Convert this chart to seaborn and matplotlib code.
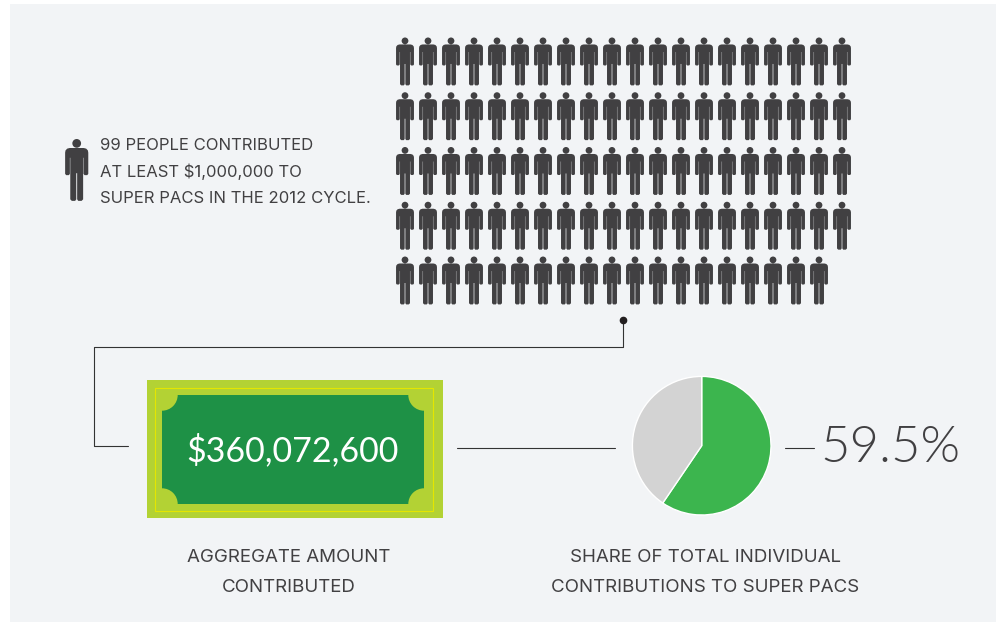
import numpy as np
import pandas as pd
import matplotlib
matplotlib.use('Agg')
import matplotlib.pyplot as plt
from matplotlib import font_manager as fm
from matplotlib.patches import Rectangle, Circle
from matplotlib.path import Path
import seaborn as sns

n_pessoas = 99
n_colunas = 20
fatias = [59.5, 40.5]
cores_fatias = ['#3CB54E', '#D3D3D3']
txt_intro = ['99 PEOPLE CONTRIBUTED', 'AT LEAST $1,000,000 TO', 'SUPER PACS IN THE 2012 CYCLE.']
txt_valor = '$360,072,600'
txt_pct = '59.5%'
txt_agregado = ['AGGREGATE AMOUNT', 'CONTRIBUTED']
txt_share = ['SHARE OF TOTAL INDIVIDUAL', 'CONTRIBUTIONS TO SUPER PACS']

W, H = 997, 622
ESCURO = '#414042'

sns.set_theme(style='white')
plt.rcParams['font.family'] = ['Lato', 'DejaVu Sans']


def fonte_leve():
    # Lato Light direto do arquivo, o peso 'light' cai no Hairline
    for f in fm.fontManager.ttflist:
        nome = f.fname.rsplit('/', 1)[-1]
        if nome.lower() in ('lato-light.ttf', 'lato-light.otf'):
            return fm.FontProperties(fname=f.fname)
    return fm.FontProperties(family='Roboto', weight='light')


def boneco():
    # meia silhueta em pixels, y medido a partir do topo da cabeca
    meio = [(0.35, 26.5), (0.35, 46.8), (1.2, 48), (3.8, 48), (5.0, 46.8), (5.0, 14.5),
            (5.3, 14.5), (5.3, 27), (6.1, 28), (8.2, 28), (9, 27), (9, 10.5),
            (8.7, 8.8), (7.4, 7.4), (5.5, 6.9)]
    contorno = meio + [(-x, y) for x, y in reversed(meio)]
    corpo = Path([(x, 24 - y) for x, y in contorno] + [(0.35, -2.5)], closed=True)
    cabeca = Path.circle((0, 24 - 3.3), 3.4)
    return Path.make_compound_path(corpo, cabeca)


def eixo_px(fig, x0, y0, x1, y1):
    return fig.add_axes([x0 / W, 1 - y1 / H, (x1 - x0) / W, (y1 - y0) / H])


fig = plt.figure(figsize=(W / 100, H / 100), dpi=100, facecolor='white')
ax = fig.add_axes([0, 0, 1, 1])
ax.set_xlim(0, W)
ax.set_ylim(H, 0)
ax.axis('off')
ax.add_patch(Rectangle((10, 4), 986, 618, color='#F2F4F6', lw=0))

# pessoas
idx = np.arange(n_pessoas)
df = pd.DataFrame({'linha': idx // n_colunas, 'coluna': idx % n_colunas})
ax_p = eixo_px(fig, 393.5, 34.1, 853.5, 307.9)
sns.scatterplot(data=df, x='coluna', y='linha', marker=boneco(), s=(48 * 0.72) ** 2,
                color=ESCURO, edgecolor='none', linewidth=0, legend=False, ax=ax_p)
ax_p.set_xlim(-0.5, n_colunas - 0.5)
ax_p.set_ylim(4.5, -0.5)
ax_p.axis('off')

# boneco da legenda
sns.scatterplot(x=[76.7], y=[170], marker=boneco(), s=(62 * 0.72) ** 2, color=ESCURO,
                edgecolor='none', linewidth=0, legend=False, ax=ax)
ax.set_xlim(0, W)
ax.set_ylim(H, 0)

for y, t in zip([145.5, 171.5, 198.5], txt_intro):
    ax.text(100, y, t, fontsize=12, family='Inter', color=ESCURO, va='center', ha='left')

# conectores
ax.plot([623, 623, 94, 94, 128], [320, 347, 347, 446, 446], color='#333333', lw=0.8)
ax.plot([623], [320], 'o', color='#231F20', ms=4.5)
ax.plot([457, 615], [447.5, 447.5], color='#333333', lw=0.8)
ax.plot([785, 814], [448, 448], color='#333333', lw=0.8)

# nota de dolar
ax.add_patch(Rectangle((147, 380), 296, 138, color='#B3D234', lw=0))
ax.add_patch(Rectangle((155, 387.5), 277.5, 123, fill=False, ec='#E4E600', lw=0.8))
verde = Rectangle((162, 395), 262, 109, color='#1E9146', lw=0)
ax.add_patch(verde)
for cx in (162, 424):
    for cy in (395, 504):
        c = Circle((cx, cy), 15.7, color='#B3D234', lw=0)
        ax.add_patch(c)
        c.set_clip_path(verde)
ax.text(292.7, 450, txt_valor, fontsize=24.5, color='white', ha='center', va='center')

# pizza
ax_pie = eixo_px(fig, 632.4, 376.4, 771, 515)
ax_pie.pie(fatias, colors=cores_fatias, startangle=90, counterclock=False, radius=1)
ax_pie.set_xlim(-1, 1)
ax_pie.set_ylim(-1, 1)

ax.text(820, 448, txt_pct, fontsize=36.5, color=ESCURO, fontproperties=fonte_leve(),
        ha='left', va='center')

for y, t in zip([557, 588], txt_agregado):
    ax.text(289, y, t, fontsize=13.5, family='Inter', color=ESCURO, ha='center', va='center')
for y, t in zip([557, 588], txt_share):
    ax.text(705, y, t, fontsize=13.5, family='Inter', color=ESCURO, ha='center', va='center')

fig.savefig('out.png', dpi=100)
